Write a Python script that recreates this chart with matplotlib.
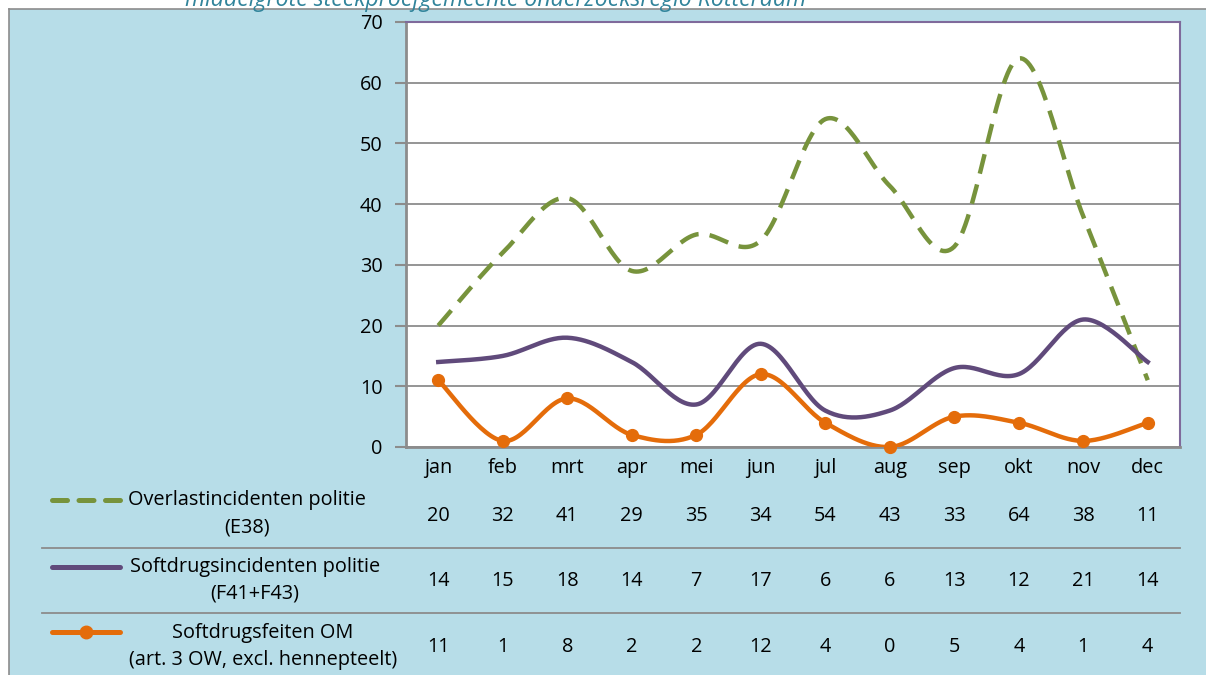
import numpy as np
import matplotlib
matplotlib.use("Agg")
import matplotlib.pyplot as plt
from matplotlib.lines import Line2D
from matplotlib.transforms import blended_transform_factory

plt.rcParams['font.family'] = ['Open Sans', 'DejaVu Sans']

months = ['jan', 'feb', 'mrt', 'apr', 'mei', 'jun', 'jul', 'aug', 'sep', 'okt', 'nov', 'dec']
overlast = [20, 32, 41, 29, 35, 34, 54, 43, 33, 64, 38, 11]
softdrugs_pol = [14, 15, 18, 14, 7, 17, 6, 6, 13, 12, 21, 14]
softdrugs_om = [11, 1, 8, 2, 2, 12, 4, 0, 5, 4, 1, 4]
series_labels = ['Overlastincidenten politie\n(E38)',
                 'Softdrugsincidenten politie\n(F41+F43)',
                 'Softdrugsfeiten OM\n(art. 3 OW, excl. hennepteelt)']
yticks = [0, 10, 20, 30, 40, 50, 60, 70]
subtitle = 'middelgrote steekproefgemeente onderzoeksregio Rotterdam'

GREEN = '#77933c'
PURPLE = '#604a7b'
ORANGE = '#e46c0a'
BG = '#b7dde8'
GRID = '#8c8c8c'
FS = 14.3


def smooth(x, y, n=30):
    """Catmull-Rom spline through the data points (Excel-like smoothing)."""
    x = np.asarray(x, float)
    y = np.asarray(y, float)
    px = np.concatenate([[x[0]], x, [x[-1]]])
    py = np.concatenate([[y[0]], y, [y[-1]]])
    xs, ys = [], []
    t = np.linspace(0, 1, n)
    for i in range(1, len(px) - 2):
        p0x, p1x, p2x, p3x = px[i - 1], px[i], px[i + 1], px[i + 2]
        p0y, p1y, p2y, p3y = py[i - 1], py[i], py[i + 1], py[i + 2]
        c1x = p1x + (p2x - p0x) / 6
        c1y = p1y + (p2y - p0y) / 6
        c2x = p2x - (p3x - p1x) / 6
        c2y = p2y - (p3y - p1y) / 6
        bx = (1 - t) ** 3 * p1x + 3 * (1 - t) ** 2 * t * c1x + 3 * (1 - t) * t ** 2 * c2x + t ** 3 * p2x
        by = (1 - t) ** 3 * p1y + 3 * (1 - t) ** 2 * t * c1y + 3 * (1 - t) * t ** 2 * c2y + t ** 3 * p2y
        xs.append(bx if i == 1 else bx[1:])
        ys.append(by if i == 1 else by[1:])
    return np.concatenate(xs), np.concatenate(ys)


W, H = 1206, 675
fig = plt.figure(figsize=(W / 100, H / 100), dpi=100)
fig.patch.set_facecolor('white')

# blue background panel
bgax = fig.add_axes([9 / W, 0, 1 - 9 / W, (H - 9) / H])
bgax.set_xlim(0, 1)
bgax.set_ylim(0, 1)
bgax.set_facecolor(BG)
for s in ['right', 'bottom']:
    bgax.spines[s].set_visible(False)
for s in ['left', 'top']:
    bgax.spines[s].set_color('#8c8c8c')
    bgax.spines[s].set_linewidth(1.2)
bgax.set_xticks([])
bgax.set_yticks([])

fig.text(185 / W, 1 - 0 / H, subtitle, color='#31849b', fontsize=16.6,
         style='italic', ha='left', va='center')

left, right, top, bottom = 406, 1180, 22, 447
ax = fig.add_axes([left / W, (H - bottom) / H, (right - left) / W, (bottom - top) / H])
ax.set_facecolor('white')
x = np.arange(len(months))
ax.set_xlim(-0.5, len(months) - 0.5)
ax.set_ylim(0, 70)
ax.set_yticks(yticks)
ax.set_yticklabels([str(v) for v in yticks], fontsize=FS)
ax.set_xticks(x)
ax.set_xticklabels(months, fontsize=FS)
ax.tick_params(axis='x', length=0, pad=8)
ax.tick_params(axis='y', length=8, width=1.5, color=GRID, pad=9)
ax.grid(axis='y', color=GRID, linewidth=1.3)
ax.set_axisbelow(True)
for s in ['left', 'bottom']:
    ax.spines[s].set_color(GRID)
    ax.spines[s].set_linewidth(2)
for s in ['top', 'right']:
    ax.spines[s].set_color('#7f6a9b')
    ax.spines[s].set_linewidth(1.5)

sx, sy = smooth(x, overlast)
ax.plot(sx, sy, color=GREEN, lw=3.2, dashes=(4.5, 2.5), solid_capstyle='butt', zorder=3)
sx, sy = smooth(x, softdrugs_pol)
ax.plot(sx, sy, color=PURPLE, lw=3.2, zorder=4)
sx, sy = smooth(x, softdrugs_om)
ax.plot(sx, sy, color=ORANGE, lw=3.2, zorder=5)
ax.plot(x, softdrugs_om, 'o', color=ORANGE, ms=8.5, zorder=6, clip_on=False)

# data table below
tr = blended_transform_factory(ax.transData, fig.transFigure)
row_y = [516, 581, 647]
label_y = [(500, 527), (567, 593), (633, 660)]
label_cx = [247, 255, 263]
data_rows = [overlast, softdrugs_pol, softdrugs_om]
for r in range(3):
    for i, v in enumerate(data_rows[r]):
        fig.text(i, 1 - row_y[r] / H, str(v), transform=tr, fontsize=FS,
                 ha='center', va='center')
    l1, l2 = series_labels[r].split('\n')
    fig.text(label_cx[r] / W, 1 - label_y[r][0] / H, l1, fontsize=FS, ha='center', va='center')
    fig.text(label_cx[r] / W, 1 - label_y[r][1] / H, l2, fontsize=FS, ha='center', va='center')

for yy in [548, 613]:
    fig.add_artist(Line2D([42 / W, right / W], [1 - yy / H, 1 - yy / H],
                          color=GRID, lw=1.3))

# legend keys
ly = [500, 567, 632]
fig.add_artist(Line2D([52 / W, 120 / W], [1 - ly[0] / H] * 2, color=GREEN, lw=3.6,
                      dashes=(3.0, 2.3), dash_capstyle='round'))
fig.add_artist(Line2D([52 / W, 120 / W], [1 - ly[1] / H] * 2, color=PURPLE, lw=3.6,
                      solid_capstyle='round'))
fig.add_artist(Line2D([52 / W, 120 / W], [1 - ly[2] / H] * 2, color=ORANGE, lw=3.6,
                      solid_capstyle='round'))
fig.add_artist(Line2D([86 / W], [1 - ly[2] / H], color=ORANGE, marker='o', ms=9, lw=0))

fig.savefig('out.png', dpi=100, facecolor=fig.get_facecolor())
